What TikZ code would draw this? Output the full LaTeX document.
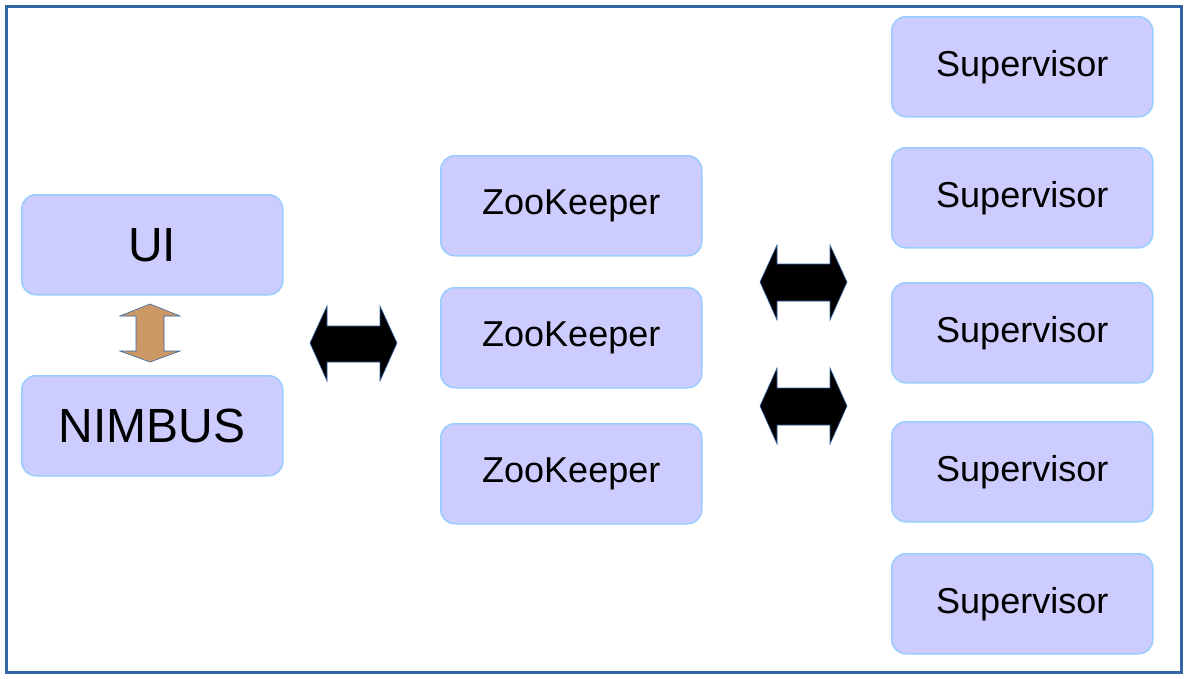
\documentclass[tikz,border=0pt]{standalone}
\usepackage{fontspec}
\setmainfont{Liberation Sans}
\definecolor{boxfill}{HTML}{CCCCFF}
\definecolor{boxline}{HTML}{99CCFF}
\definecolor{frameblue}{HTML}{3465A4}
\definecolor{orangefill}{HTML}{CC9966}
\begin{document}
\begin{tikzpicture}[x=1pt,y=-1pt,
  box/.style={draw=boxline,fill=boxfill,line width=1.5pt,rounded corners=14pt,
    minimum width=261pt,minimum height=100pt,inner sep=0pt,anchor=north west,
    font=\fontsize{36}{43}\selectfont},
  bigbox/.style={box,font=\fontsize{48}{56}\selectfont},
  blockarrow/.style={fill=black,draw=frameblue,line width=0.6pt}]
\useasboundingbox (0,0) rectangle (1187,678);
\draw[frameblue,line width=3pt] (6,6) rectangle (1181,672);
\node[bigbox] (ui) at (21,194) {UI};
\node[bigbox] (nimbus) at (21,375) {NIMBUS};
\node[box] (zk1) at (440,155) {ZooKeeper};
\node[box] (zk2) at (440,287) {ZooKeeper};
\node[box] (zk3) at (440,423) {ZooKeeper};
\node[box] (s1) at (891,16) {Supervisor};
\node[box] (s2) at (891,147) {Supervisor};
\node[box] (s3) at (891,282) {Supervisor};
\node[box] (s4) at (891,421) {Supervisor};
\node[box] (s5) at (891,553) {Supervisor};
% orange vertical double arrow
\draw[fill=orangefill,draw=frameblue,line width=0.6pt]
  (150,304) -- (180,316) -- (164,316) -- (164,351) -- (180,351) -- (150,362)
  -- (120,351) -- (136,351) -- (136,316) -- (120,316) -- cycle;
% black horizontal double arrows
\draw[blockarrow]
  (310,343) -- (327,306) -- (327,326) -- (380,326) -- (380,306) -- (397,343)
  -- (380,381) -- (380,362) -- (327,362) -- (327,381) -- cycle;
\draw[blockarrow]
  (760,282) -- (777,245) -- (777,264) -- (830,264) -- (830,245) -- (847,282)
  -- (830,320) -- (830,301) -- (777,301) -- (777,320) -- cycle;
\draw[blockarrow]
  (760,406) -- (777,368) -- (777,388) -- (830,388) -- (830,368) -- (847,406)
  -- (830,444) -- (830,425) -- (777,425) -- (777,444) -- cycle;
\end{tikzpicture}
\end{document}
